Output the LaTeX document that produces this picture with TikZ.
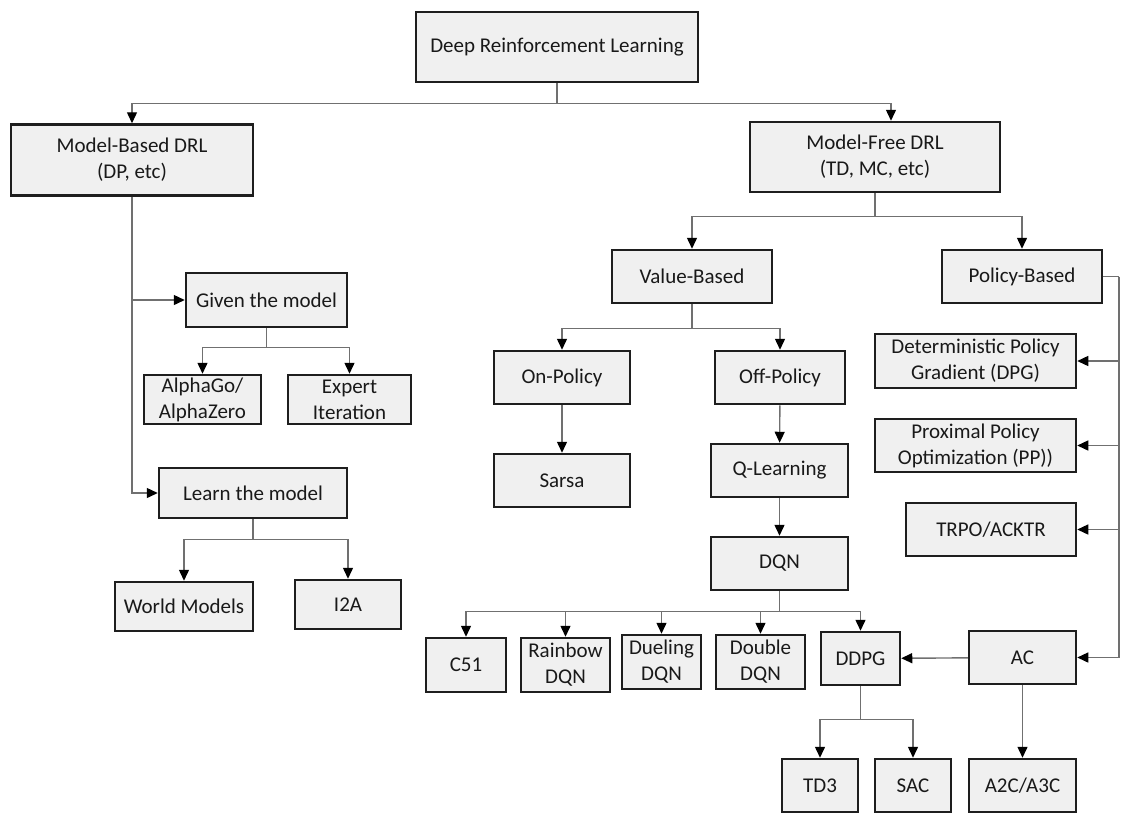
\documentclass[tikz,border=0pt]{standalone}
\usepackage{fontspec}
\setmainfont{Carlito}
\usepackage{tikz}
\usetikzlibrary{arrows.meta}
\definecolor{boxfill}{HTML}{F0F0F0}
\definecolor{boxline}{HTML}{1E1E1E}
\definecolor{linkgray}{HTML}{707070}

\begin{document}
\begin{tikzpicture}[x=1pt,y=-1pt,
  box/.style={draw=boxline, line width=2.5pt, fill=boxfill, inner sep=0pt,
    align=center, text=black!90, font=\fontsize{21}{26}\selectfont},
  wh/.style 2 args={minimum width=#1pt, minimum height=#2pt},
  link/.style={draw=linkgray, line width=1.4pt},
  arr/.style={link, -{Triangle[length=11pt,width=10pt,color=black]}}]
\useasboundingbox (0,0) rectangle (1121,815);
\node[box,wh={282}{70}] (drl) at (557,47) {Deep Reinforcement Learning};
\node[box,wh={242}{71}] (mb) at (132,160) {Model-Based DRL\\(DP, etc)};
\node[box,wh={250}{70}] (mf) at (875,157) {Model-Free DRL\\(TD, MC, etc)};
\node[box,wh={161}{54}] (given) at (266.5,300) {Given the model};
\node[box,wh={117}{49}] (alpha) at (202.5,399.5) {AlphaGo/\\AlphaZero};
\node[box,wh={123}{49}] (expert) at (349.5,399.5) {Expert\\Iteration};
\node[box,wh={188}{50}] (learn) at (253,493) {Learn the model};
\node[box,wh={138}{49}] (world) at (184,606.5) {World Models};
\node[box,wh={106}{49}] (itwoa) at (348,604.5) {I2A};
\node[box,wh={160}{53}] (vb) at (692,276.5) {Value-Based};
\node[box,wh={160}{53}] (pb) at (1022,276.5) {Policy-Based};
\node[box,wh={136}{53}] (onp) at (562,377.5) {On-Policy};
\node[box,wh={130}{53}] (offp) at (780,377.5) {Off-Policy};
\node[box,wh={136}{53}] (sarsa) at (562,480.5) {Sarsa};
\node[box,wh={137}{53}] (qlearn) at (779.5,470.5) {Q-Learning};
\node[box,wh={137}{53}] (dqn) at (779.5,563.5) {DQN};
\node[box,wh={80}{54}] (cfo) at (466,665) {C51};
\node[box,wh={89}{54}] (rainbow) at (565.5,665) {Rainbow\\DQN};
\node[box,wh={79}{54}] (dueling) at (661.5,662) {Dueling\\DQN};
\node[box,wh={89}{54}] (double) at (760.5,662) {Double\\DQN};
\node[box,wh={79}{53}] (ddpg) at (860.5,658.5) {DDPG};
\node[box,wh={107}{53}] (ac) at (1022.5,657.5) {AC};
\node[box,wh={201}{54}] (dpg) at (975.5,361) {Deterministic Policy\\Gradient (DPG)};
\node[box,wh={201}{53}] (ppo) at (975.5,445.5) {Proximal Policy\\Optimization (PP))};
\node[box,wh={170}{53}] (trpo) at (991,529.5) {TRPO/ACKTR};
\node[box,wh={76}{53}] (tdthree) at (820,785.5) {TD3};
\node[box,wh={76}{53}] (sac) at (913,785.5) {SAC};
\node[box,wh={107}{53}] (atwoc) at (1022.5,785.5) {A2C/A3C};

\draw[link] (drl.south) -- ++(0,20) coordinate (jdrl);
\draw[arr] (jdrl) -| (mb.north);
\draw[arr] (jdrl) -| ([xshift=16pt]mf.north);

\draw[arr] (mb.south) |- (learn.west);
\draw[arr] (mb.south |- given.west) -- (given.west);
\draw[link] (given.south) -- ++(0,19) coordinate (jgiven);
\draw[arr] (jgiven) -| (alpha.north);
\draw[arr] (jgiven) -| (expert.north);
\draw[link] (learn.south) -- ++(0,20) coordinate (jlearn);
\draw[arr] (jlearn) -| (world.north);
\draw[arr] (jlearn) -| (itwoa.north);

\draw[link] (mf.south) -- ++(0,23) coordinate (jmf);
\draw[arr] (jmf) -| (vb.north);
\draw[arr] (jmf) -| (pb.north);
\draw[link] (vb.south) -- ++(0,24) coordinate (jvb);
\draw[arr] (jvb) -| (onp.north);
\draw[arr] (jvb) -| (offp.north);
\draw[arr] (onp) -- (sarsa);
\draw[arr] (offp) -- (qlearn);
\draw[arr] (qlearn) -- (dqn);

\draw[link] (dqn.south) -- ++(0,20) coordinate (jdqn);
\foreach \kid in {cfo,rainbow,dueling,double,ddpg}
  \draw[arr] (jdqn) -| (\kid.north);
\draw[link] (ddpg.south) -- ++(0,33) coordinate (jddpg);
\draw[arr] (jddpg) -| (tdthree.north);
\draw[arr] (jddpg) -| (sac.north);
\draw[arr] (ac) -- (ddpg);
\draw[arr] (ac) -- (atwoc);

\coordinate (rail) at (1119,276.5);
\draw[link] (pb.east) -- (rail);
\draw[arr] (rail) |- (ac.east);
\foreach \kid in {dpg,ppo,trpo}
  \draw[arr] (rail |- \kid.east) -- (\kid.east);
\end{tikzpicture}
\end{document}
